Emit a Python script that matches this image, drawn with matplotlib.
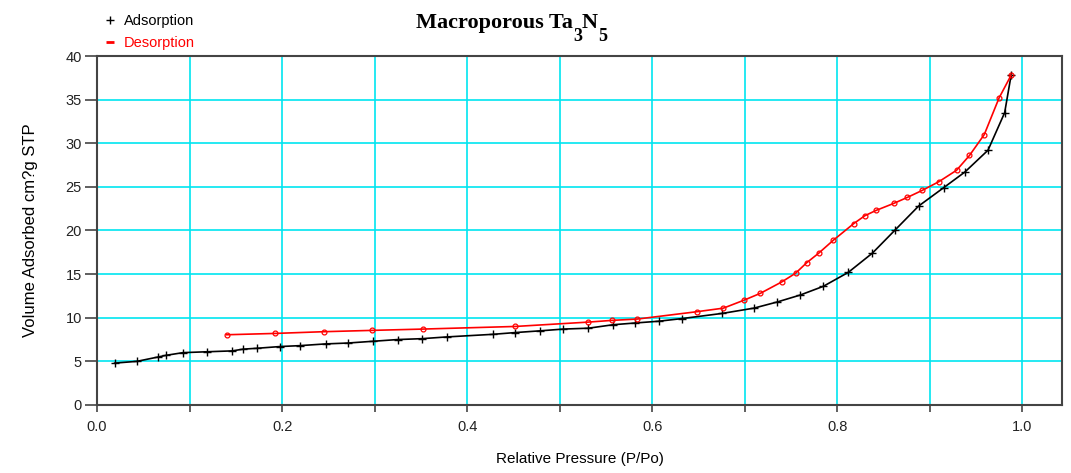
import numpy as np
import matplotlib.pyplot as plt
from matplotlib.lines import Line2D
from matplotlib import transforms

plt.rcParams['font.family'] = 'Liberation Sans'

# adsorption branch
ads_p = [0.019, 0.043, 0.066, 0.075, 0.093, 0.119, 0.146, 0.158, 0.173, 0.198,
         0.219, 0.247, 0.271, 0.298, 0.325, 0.351, 0.378, 0.428, 0.452, 0.479,
         0.504, 0.531, 0.558, 0.582, 0.607, 0.632, 0.676, 0.710, 0.735, 0.760,
         0.785, 0.812, 0.838, 0.863, 0.888, 0.915, 0.938, 0.963, 0.981, 0.988]
ads_v = [4.8, 5.0, 5.5, 5.7, 6.0, 6.1, 6.2, 6.4, 6.5, 6.7,
         6.8, 7.0, 7.1, 7.3, 7.5, 7.6, 7.8, 8.1, 8.3, 8.5,
         8.7, 8.8, 9.2, 9.4, 9.6, 9.9, 10.5, 11.1, 11.8, 12.6,
         13.6, 15.2, 17.4, 20.1, 22.8, 24.9, 26.7, 29.2, 33.5, 37.8]

# desorption branch
des_p = [0.988, 0.975, 0.959, 0.943, 0.929, 0.910, 0.892, 0.876, 0.861, 0.842,
         0.830, 0.818, 0.796, 0.780, 0.767, 0.755, 0.740, 0.717, 0.699, 0.677,
         0.649, 0.584, 0.557, 0.531, 0.452, 0.352, 0.297, 0.245, 0.192, 0.140]
des_v = [37.8, 35.2, 31.0, 28.6, 26.9, 25.6, 24.6, 23.8, 23.1, 22.3,
         21.7, 20.8, 18.9, 17.4, 16.3, 15.1, 14.1, 12.8, 12.0, 11.1,
         10.7, 9.85, 9.7, 9.5, 9.0, 8.7, 8.55, 8.4, 8.2, 8.05]

fig = plt.figure(figsize=(10.71, 4.73), dpi=100)
ax = fig.add_axes([0.0906, 0.1438, 0.9010, 0.7378])

ax.plot(ads_p, ads_v, color='black', lw=1.2, marker='+', ms=6, mew=1.0, zorder=3)
ax.plot(des_p, des_v, color='red', lw=1.2, marker='o', ms=3.5, mfc='none', mew=0.9, zorder=4)

ax.set_xlim(0, 1.043)
ax.set_ylim(0, 40)
ax.set_xticks(np.arange(0, 1.01, 0.2))
ax.set_xticks(np.arange(0.1, 1.01, 0.2), minor=True)
ax.set_xticklabels(['0.0', '0.2', '0.4', '0.6', '0.8', '1.0'])
ax.set_yticks(np.arange(0, 41, 5))
ax.grid(True, which='both', color='#00e5f0', lw=1.2)
ax.set_axisbelow(True)

for s in ax.spines.values():
    s.set_color('#444444')
    s.set_linewidth(1.5)
ax.tick_params(axis='y', length=9, width=1.2, color='#444444', labelsize=10.5,
               labelcolor='#222222', pad=2)
ax.tick_params(axis='x', which='both', length=5, width=1.2, color='#444444',
               labelsize=10.5, labelcolor='#222222', pad=6)

ax.set_xlabel('Relative Pressure (P/Po)', fontsize=11, labelpad=13)
ax.set_ylabel('Volume Adsorbed cm?g STP', fontsize=12, labelpad=20)

# title with large, low subscripts
pieces = [('Macroporous Ta', 16, 0), ('3', 13, -9), ('N', 16, 0), ('5', 13, -9)]
fig.canvas.draw()
renderer = fig.canvas.get_renderer()
texts = []
for s, fs, dy in pieces:
    t = fig.text(0, 0, s, family='Liberation Serif', weight='bold', fontsize=fs,
                 ha='left', va='baseline')
    texts.append((t, dy))
widths = [t.get_window_extent(renderer).width for t, dy in texts]
x = 416
base_y = 473 - 28
for (t, dy), w in zip(texts, widths):
    t.set_transform(transforms.IdentityTransform())
    t.set_position((x, base_y + dy * 100 / 72))
    x += w

handles = [Line2D([], [], color='black', marker='+', ls='none', ms=6),
           Line2D([], [], color='red', marker='_', ls='none', ms=6, mew=2)]
leg = fig.legend(handles, ['Adsorption', 'Desorption'], loc='upper left',
                 bbox_to_anchor=(0.086, 0.995), frameon=False, fontsize=10.5,
                 handlelength=0.8, handletextpad=0.6, labelspacing=0.55,
                 borderpad=0.3)
for t, c in zip(leg.get_texts(), ['black', 'red']):
    t.set_color(c)

plt.savefig('out.png', dpi=100)
